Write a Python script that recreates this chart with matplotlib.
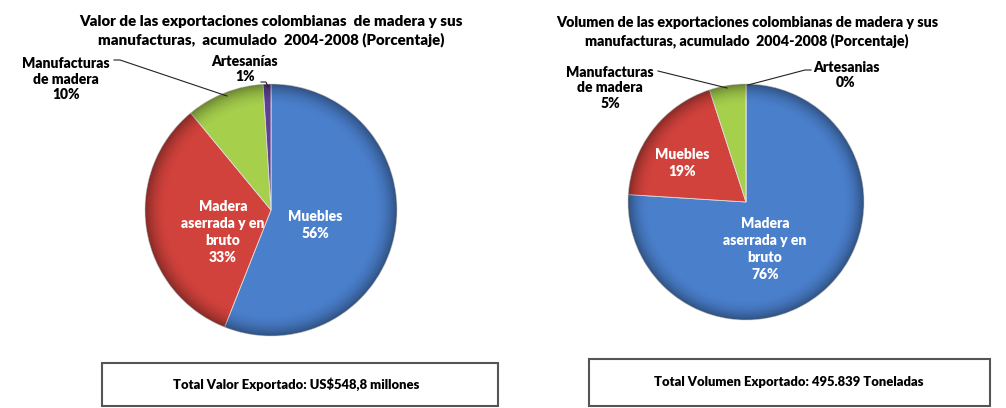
import numpy as np
import matplotlib.pyplot as plt
from matplotlib.patches import Rectangle, Circle

plt.rcParams['font.family'] = ['Lato', 'DejaVu Sans']

# valor (porcentaje), sentido horario desde arriba
valor_cats = ["Muebles", "Madera\naserrada y en\nbruto", "Manufacturas\nde madera", "Artesanías"]
valor_pct = [56, 33, 10, 1]
# volumen (porcentaje)
vol_cats = ["Madera\naserrada y en\nbruto", "Muebles", "Manufacturas\nde madera", "Artesanias"]
vol_pct = [76, 19, 5, 0]

titulo_valor = "Valor de las exportaciones colombianas  de madera y sus\nmanufacturas,  acumulado  2004-2008 (Porcentaje)"
titulo_vol = "Volumen de las exportaciones colombianas de madera y sus\nmanufacturas, acumulado  2004-2008 (Porcentaje)"
total_valor = "Total Valor Exportado: US$548,8 millones"
total_vol = "Total Volumen Exportado: 495.839 Toneladas"

W, H = 1006, 408
fig = plt.figure(figsize=(W / 100, H / 100), dpi=100)
ax = fig.add_axes([0, 0, 1, 1])


def Y(py):
    return H - py


blue, red, green, purple = '#4a7fcc', '#d2423c', '#a6cf4c', '#5e3f94'


def pastel(vals, cx, cy, r):
    ax.pie(vals, colors=[blue, red, green, purple], startangle=90, counterclock=False,
           center=(cx, Y(cy)), radius=r, frame=True,
           wedgeprops=dict(edgecolor='#dcdcdc', linewidth=0.6))
    # sombreado en el borde
    g = np.linspace(-1, 1, 200)
    xx, yy = np.meshgrid(g, g)
    rr = np.sqrt(xx ** 2 + yy ** 2)
    rgba = np.zeros((200, 200, 4))
    rgba[..., 3] = 0.35 * np.clip((rr - 0.82) / 0.18, 0, 1) ** 2
    im = ax.imshow(rgba, extent=(cx - r, cx + r, Y(cy) - r, Y(cy) + r), zorder=3,
                   interpolation='bilinear')
    im.set_clip_path(Circle((cx, Y(cy)), r, transform=ax.transData))


pastel(valor_pct, 271, 210, 126)
pastel(vol_pct, 746, 202, 118)

ax.set_xlim(0, W)
ax.set_ylim(0, H)
ax.set_aspect('auto')
ax.axis('off')

tkw = dict(ha='center', va='center', fontweight='heavy', fontsize=10, linespacing=1.37, zorder=5)

# titulos
ax.text(271, Y(31), titulo_valor, **dict(tkw, fontsize=10.8, linespacing=1.4))
ax.text(747, Y(32), titulo_vol, **dict(tkw, fontsize=10.3, linespacing=1.4))

# etiquetas internas (blanco)
ax.text(315, Y(225), f"{valor_cats[0]}\n{valor_pct[0]}%", color='white', **tkw)
ax.text(223, Y(232), f"{valor_cats[1]}\n{valor_pct[1]}%", color='white', **tkw)
ax.text(682, Y(163), f"{vol_cats[1]}\n{vol_pct[1]}%", color='white', **tkw)
ax.text(765, Y(249), f"{vol_cats[0]}\n{vol_pct[0]}%", color='white', **tkw)

# etiquetas externas
okw = dict(tkw, linespacing=1.22)
ax.text(66, Y(79), f"{valor_cats[2]}\n{valor_pct[2]}%", **okw)
ax.text(245, Y(69), f"{valor_cats[3]}\n{valor_pct[3]}%", **okw)
ax.text(610, Y(88), f"{vol_cats[2]}\n{vol_pct[2]}%", **okw)
ax.text(846, Y(75), f"{vol_cats[3]}\n{vol_pct[3]}%", **okw)

# lineas guia
lk = dict(color='#222222', linewidth=0.8, zorder=4)
ax.plot([114, 120, 227], [Y(60), Y(60), Y(96)], **lk)
ax.plot([261, 266, 268], [Y(82), Y(82), Y(87)], **lk)
ax.plot([658, 727], [Y(71), Y(88)], **lk)
ax.plot([811, 805, 748], [Y(70), Y(70), Y(85)], **lk)

# cajas de totales
ax.add_patch(Rectangle((102, Y(406)), 396, 43, facecolor='white', edgecolor='#555555', linewidth=1.5))
ax.add_patch(Rectangle((589, Y(406)), 401, 47, facecolor='white', edgecolor='#555555', linewidth=1.5))
ax.text(296, Y(384), total_valor, **dict(tkw, fontsize=9.4))
ax.text(789, Y(382), total_vol, **dict(tkw, fontsize=9.4))

fig.savefig('out.png', dpi=100, facecolor='white')
